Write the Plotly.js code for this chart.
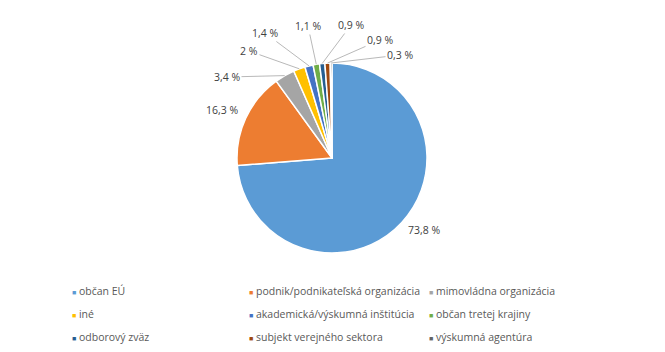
<!DOCTYPE html>
<html><head><meta charset="utf-8">
<script src="https://cdn.plot.ly/plotly-3.0.1.min.js"></script>
<style>html,body{margin:0;padding:0;background:#fff}#c{width:665px;height:352px}</style>
</head><body><div id="c"></div>
<script>
const categories = ["občan EÚ","podnik/podnikateľská organizácia","mimovládna organizácia","iné","akademická/výskumná inštitúcia","občan tretej krajiny","odborový zväz","subjekt verejného sektora","výskumná agentúra"];
const values = [73.8,16.3,3.4,2,1.4,1.1,0.9,0.9,0.3];
const colors = ["#5B9BD5","#ED7D31","#A5A5A5","#FFC000","#4472C4","#70AD47","#255E91","#9E480E","#636363"];
const labelsText = values.map(v => String(v).replace('.', ',') + ' %');

// layout: label text centres (pixels) and whether a leader line is drawn
const labelPos = [[424,230],[222,110],[227,77],[249,51],[265,33],[308,26],[351,25],[380,40],[400,55]];
const leader = [false,false,true,true,true,true,true,true,true];

const font = "Open Sans, Liberation Sans, sans-serif";
const W = 665, H = 352;
const cx = 332, cy = 158, R = 95;

const trace = {
  type: 'pie', values: values, labels: categories,
  textinfo: 'none', sort: false, direction: 'clockwise', rotation: 0,
  marker: {colors: colors, line: {color: '#fff', width: 1.5}},
  domain: {x: [(cx-R)/W, (cx+R)/W], y: [(H-cy-R)/H, (H-cy+R)/H]},
  showlegend: false, hoverinfo: 'none'
};

const total = values.reduce((a, b) => a + b, 0);
let cum = 0;
const dataLabels = values.map((v, i) => {
  const th = 2 * Math.PI * (cum + v / 2) / total;
  cum += v;
  const px = cx + R * Math.sin(th), py = cy - R * Math.cos(th);
  return {
    xref: 'paper', yref: 'paper', x: px / W, y: 1 - py / H,
    ax: labelPos[i][0] - px, ay: labelPos[i][1] - py,
    showarrow: true, arrowhead: 0, arrowwidth: 0.8,
    arrowcolor: leader[i] ? '#A6A6A6' : 'rgba(0,0,0,0)',
    text: labelsText[i], font: {family: font, size: 10.5, color: '#404040'}
  };
});

// legend built from data
const colX = [70, 247, 427], rowY = [291, 314, 337];
const legendAnn = categories.map((c, i) => ({
  xref: 'paper', yref: 'paper', xanchor: 'left', yanchor: 'middle',
  x: colX[i % 3] / W, y: 1 - rowY[Math.floor(i / 3)] / H, showarrow: false,
  text: '<span style="color:' + colors[i] + ';font-size:7px">■</span> ' + c,
  font: {family: font, size: 10.5, color: '#595959'}
}));

Plotly.newPlot('c', [trace], {
  width: W, height: H, margin: {l: 0, r: 0, t: 0, b: 0},
  paper_bgcolor: '#fff', annotations: dataLabels.concat(legendAnn)
}, {staticPlot: true});
</script></body></html>
